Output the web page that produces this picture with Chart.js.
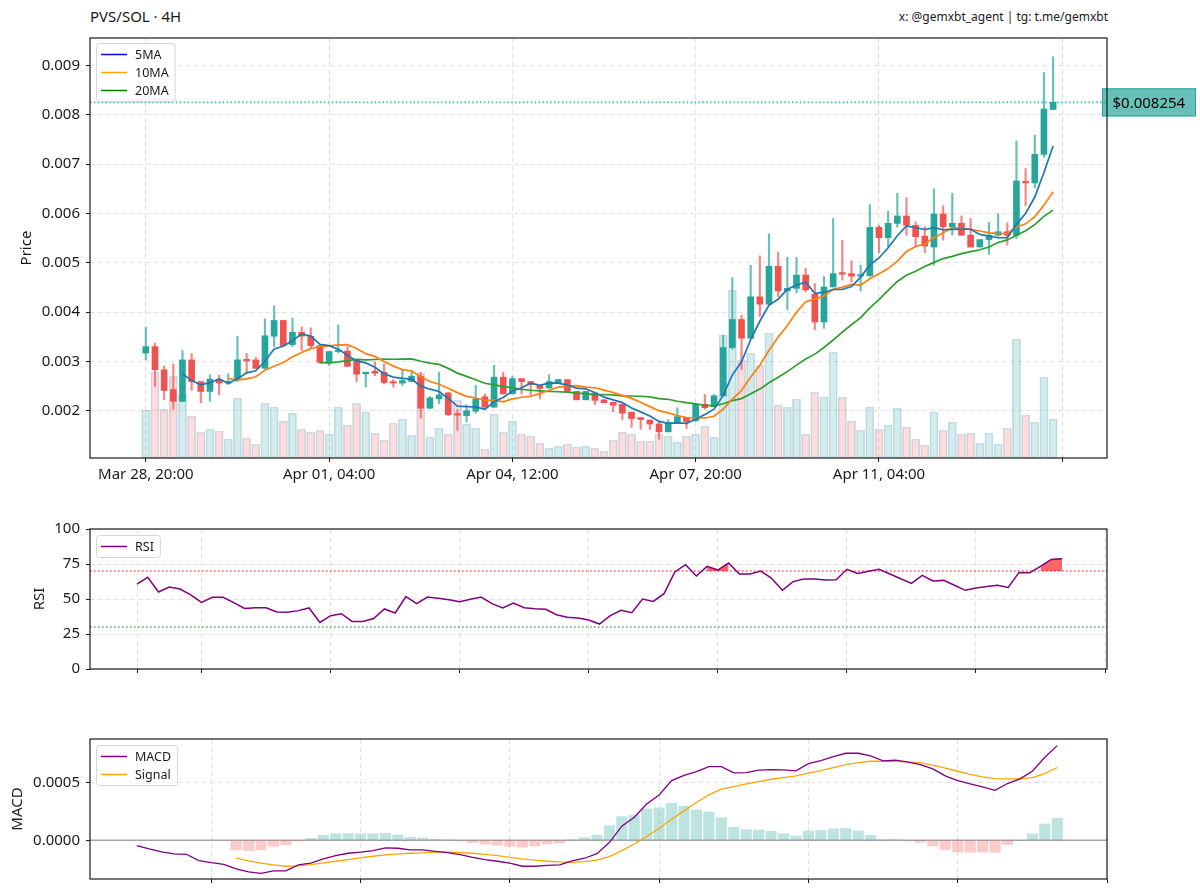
<!DOCTYPE html>
<html>
<head>
<meta charset="utf-8">
<title>PVS/SOL · 4H</title>
<script src="https://cdn.jsdelivr.net/npm/chart.js@4.4.1/dist/chart.umd.min.js"></script>
<style>
  html, body { margin: 0; padding: 0; background: #fff; }
  #wrap { position: relative; width: 1200px; height: 896px; font-family: "Noto Sans", sans-serif; overflow: hidden; }
  canvas { position: absolute; left: 0; }
  .hdr { position: absolute; color: #1a1a1a; white-space: nowrap; line-height: 1; }
  #title { left: 90px; top: 9px; font-size: 15px; }
  #credit { right: 92px; top: 11px; font-size: 12px; }
</style>
</head>
<body>
<div id="wrap">
  <div class="hdr" id="title">PVS/SOL · 4H</div>
  <div class="hdr" id="credit">x: @gemxbt_agent | tg: t.me/gemxbt</div>
  <canvas id="price" width="1200" height="500" style="top:0"></canvas>
  <canvas id="rsi" width="1200" height="190" style="top:500px"></canvas>
  <canvas id="macd" width="1200" height="206" style="top:690px"></canvas>
</div>
<script>
// ---- candles (4H), index 0 = Mar 28 20:00 ----
const priceTicks = [0, 20, 40, 60, 80, 100];
const priceTickLabels = ["Mar 28, 20:00", "Apr 01, 04:00", "Apr 04, 12:00", "Apr 07, 20:00", "Apr 11, 04:00", ""];
const priceLevels = [0.002, 0.003, 0.004, 0.005, 0.006, 0.007, 0.008, 0.009];

const open = [0.00317,0.00330,0.00283,0.00243,0.00219,0.00303,0.00259,0.00239,0.00263,0.00256,
  0.00263,0.00303,0.00303,0.00286,0.00351,0.00383,0.00334,0.00359,0.00351,0.00332,
  0.00297,0.00320,0.00321,0.00303,0.00275,0.00280,0.00278,0.00259,0.00256,0.00259,
  0.00270,0.00205,0.00224,0.00236,0.00193,0.00190,0.00199,0.00228,0.00207,0.00268,
  0.00234,0.00265,0.00259,0.00251,0.00246,0.00256,0.00263,0.00239,0.00222,0.00236,
  0.00222,0.00217,0.00213,0.00197,0.00186,0.00181,0.00173,0.00157,0.00176,0.00186,
  0.00180,0.00213,0.00208,0.00230,0.00328,0.00385,0.00347,0.00431,0.00416,0.00493,
  0.00443,0.00448,0.00475,0.00436,0.00380,0.00451,0.00478,0.00478,0.00473,0.00474,
  0.00572,0.00551,0.00580,0.00595,0.00576,0.00554,0.00532,0.00599,0.00573,0.00580,
  0.00556,0.00532,0.00547,0.00556,0.00563,0.00556,0.00664,0.00662,0.00720,0.00811];
const high = [0.00369,0.00337,0.00291,0.00295,0.00322,0.00316,0.00259,0.00273,0.00272,0.00275,
  0.00351,0.00316,0.00308,0.00386,0.00413,0.00383,0.00388,0.00370,0.00368,0.00332,
  0.00320,0.00374,0.00330,0.00303,0.00278,0.00299,0.00295,0.00263,0.00284,0.00282,
  0.00278,0.00229,0.00278,0.00237,0.00202,0.00212,0.00251,0.00234,0.00292,0.00278,
  0.00270,0.00265,0.00259,0.00251,0.00273,0.00263,0.00263,0.00239,0.00239,0.00236,
  0.00222,0.00217,0.00213,0.00197,0.00186,0.00181,0.00178,0.00182,0.00206,0.00186,
  0.00213,0.00233,0.00233,0.00353,0.00470,0.00394,0.00495,0.00514,0.00559,0.00522,
  0.00511,0.00511,0.00489,0.00458,0.00472,0.00590,0.00546,0.00504,0.00495,0.00618,
  0.00576,0.00605,0.00641,0.00632,0.00583,0.00573,0.00650,0.00616,0.00641,0.00595,
  0.00590,0.00547,0.00582,0.00599,0.00581,0.00747,0.00691,0.00759,0.00886,0.00918];
const low = [0.00303,0.00249,0.00222,0.00203,0.00218,0.00241,0.00216,0.00219,0.00232,0.00253,
  0.00259,0.00276,0.00285,0.00285,0.00330,0.00330,0.00330,0.00322,0.00327,0.00296,
  0.00292,0.00317,0.00289,0.00259,0.00248,0.00271,0.00254,0.00248,0.00251,0.00259,
  0.00185,0.00204,0.00214,0.00190,0.00160,0.00177,0.00195,0.00207,0.00207,0.00234,
  0.00234,0.00234,0.00232,0.00224,0.00246,0.00256,0.00239,0.00222,0.00222,0.00213,
  0.00216,0.00198,0.00182,0.00166,0.00162,0.00162,0.00142,0.00157,0.00174,0.00164,
  0.00178,0.00203,0.00208,0.00230,0.00325,0.00284,0.00347,0.00391,0.00414,0.00431,
  0.00405,0.00439,0.00441,0.00364,0.00367,0.00451,0.00465,0.00461,0.00443,0.00472,
  0.00520,0.00532,0.00572,0.00556,0.00532,0.00521,0.00495,0.00546,0.00556,0.00556,
  0.00532,0.00532,0.00517,0.00554,0.00536,0.00549,0.00616,0.00652,0.00714,0.00811];
const close = [0.00330,0.00283,0.00241,0.00219,0.00303,0.00259,0.00239,0.00264,0.00256,0.00259,
  0.00303,0.00301,0.00286,0.00352,0.00383,0.00332,0.00359,0.00351,0.00332,0.00298,
  0.00320,0.00323,0.00290,0.00274,0.00278,0.00276,0.00257,0.00256,0.00261,0.00270,
  0.00205,0.00226,0.00232,0.00192,0.00191,0.00200,0.00224,0.00207,0.00268,0.00234,
  0.00265,0.00259,0.00253,0.00245,0.00259,0.00263,0.00239,0.00222,0.00239,0.00221,
  0.00216,0.00211,0.00195,0.00184,0.00182,0.00173,0.00157,0.00176,0.00188,0.00178,
  0.00213,0.00206,0.00230,0.00328,0.00385,0.00347,0.00431,0.00416,0.00493,0.00443,
  0.00448,0.00475,0.00445,0.00380,0.00451,0.00478,0.00477,0.00473,0.00476,0.00572,
  0.00551,0.00580,0.00595,0.00576,0.00553,0.00534,0.00599,0.00573,0.00580,0.00556,
  0.00532,0.00547,0.00556,0.00563,0.00556,0.00666,0.00662,0.00720,0.00812,0.008254];
// volume, relative units (axis 0..420)
const volume = [48,86,49,82,64,42,26,29,27,19,60,20,14,55,51,37,45,29,26,28,
  24,51,33,55,46,25,18,35,39,23,85,21,30,24,58,34,30,9,44,26,
  37,24,22,15,10,12,14,11,12,10,7,18,26,24,17,17,24,22,16,22,
  24,32,21,123,168,98,105,93,125,53,51,59,24,66,61,106,61,37,28,51,
  29,33,50,31,19,13,46,28,36,24,25,15,25,14,30,119,43,36,81,39];

// moving averages as drawn (5MA from candle 4, 10MA from 9, 20MA from 19)
const ma5 = [0.002752,0.002610,0.002522,0.002568,0.002642,0.002554,0.002642,0.002766,0.002810,0.003002,
  0.003250,0.003308,0.003424,0.003554,0.003514,0.003344,0.003320,0.003248,0.003126,0.003010,
  0.002970,0.002882,0.002750,0.002682,0.002656,0.002640,0.002498,0.002436,0.002388,0.002250,
  0.002092,0.002082,0.002078,0.002028,0.002180,0.002266,0.002396,0.002466,0.002558,0.002512,
  0.002562,0.002558,0.002518,0.002456,0.002444,0.002368,0.002274,0.002218,0.002164,0.002054,
  0.001976,0.001890,0.001782,0.001744,0.001752,0.001744,0.001824,0.001922,0.002030,0.002310,
  0.002724,0.002992,0.003442,0.003814,0.004144,0.004260,0.004462,0.004550,0.004608,0.004382,
  0.004398,0.004458,0.004462,0.004518,0.004710,0.004952,0.005098,0.005304,0.005548,0.005748,
  0.005710,0.005676,0.005714,0.005670,0.005678,0.005684,0.005680,0.005576,0.005542,0.005508,
  0.005508,0.005776,0.006006,0.006334,0.006832,0.007371];
const ma10 = [0.002653,0.002626,0.002644,0.002689,0.002822,0.002902,0.002975,0.003095,0.003182,0.003258,
  0.003297,0.003314,0.003336,0.003340,0.003262,0.003157,0.003101,0.002999,0.002904,0.002833,
  0.002805,0.002690,0.002593,0.002535,0.002453,0.002366,0.002290,0.002257,0.002208,0.002215,
  0.002179,0.002239,0.002272,0.002293,0.002346,0.002414,0.002477,0.002492,0.002507,0.002478,
  0.002465,0.002416,0.002368,0.002310,0.002249,0.002172,0.002082,0.002000,0.001954,0.001903,
  0.001860,0.001857,0.001852,0.001887,0.002031,0.002234,0.002408,0.002682,0.002922,0.003227,
  0.003492,0.003727,0.003996,0.004211,0.004263,0.004329,0.004460,0.004506,0.004563,0.004546,
  0.004675,0.004778,0.004883,0.005033,0.005229,0.005331,0.005387,0.005509,0.005609,0.005713,
  0.005697,0.005678,0.005645,0.005606,0.005593,0.005596,0.005728,0.005791,0.005938,0.006170,
  0.006439];
const ma20 = [0.002975,0.002970,0.002990,0.003015,0.003042,0.003030,0.003038,0.003047,0.003043,0.003046,
  0.003051,0.003002,0.002965,0.002938,0.002858,0.002762,0.002696,0.002628,0.002556,0.002524,
  0.002492,0.002465,0.002433,0.002414,0.002400,0.002390,0.002384,0.002375,0.002358,0.002347,
  0.002322,0.002328,0.002320,0.002302,0.002298,0.002293,0.002280,0.002246,0.002231,0.002191,
  0.002163,0.002137,0.002110,0.002099,0.002140,0.002203,0.002245,0.002341,0.002438,0.002565,
  0.002676,0.002792,0.002924,0.003049,0.003147,0.003282,0.003434,0.003594,0.003743,0.003887,
  0.004084,0.004253,0.004440,0.004622,0.004746,0.004830,0.004924,0.005008,0.005086,0.005130,
  0.005186,0.005228,0.005264,0.005320,0.005411,0.005464,0.005558,0.005650,0.005774,0.005942,
  0.006068];

// ---- RSI panel ----
const rsiTicks = [0, 6, 18, 30, 42, 54, 66, 78, 90];
const rsiLevels = [0, 25, 50, 75, 100];
const rsi = [60.7,65.5,55.0,58.6,57.1,52.9,47.6,51.2,51.2,47.4,
  43.3,43.8,43.8,40.7,40.5,41.7,43.6,33.3,38.1,39.5,
  34.0,34.0,36.0,42.9,40.0,51.7,46.7,51.4,50.5,49.5,
  48.1,49.8,51.4,46.7,43.6,47.1,43.8,43.1,42.6,38.8,
  36.9,36.4,35.0,32.1,38.1,41.9,40.2,50.0,48.3,53.8,
  69.3,74.5,66.4,73.3,70.7,75.7,67.9,67.9,69.9,64.8,
  56.2,62.4,64.3,64.3,63.6,63.8,71.2,68.3,69.8,71.2,
  67.9,64.5,61.2,66.9,62.9,63.3,59.8,56.2,57.9,59.0,
  59.8,58.3,69.0,68.8,73.3,78.3,78.8];

// ---- MACD panel (signal + histogram start at index 8) ----
const macdTicks = [6, 18, 30, 42, 54, 66, 78];
const macdLevels = [0, 0.0005];
const macd = [-4.6e-5,-7.5e-5,-10.1e-5,-11.8e-5,-12.1e-5,-17.5e-5,-19.3e-5,-20.7e-5,-24.7e-5,-27.3e-5,
  -28.5e-5,-26.4e-5,-26.4e-5,-21.3e-5,-19.8e-5,-16.1e-5,-13.2e-5,-11.2e-5,-10.3e-5,-8.9e-5,
  -6.6e-5,-6.9e-5,-8.3e-5,-8.3e-5,-9.5e-5,-10.6e-5,-12.4e-5,-14.7e-5,-16.7e-5,-18.1e-5,
  -19.8e-5,-22.4e-5,-22.4e-5,-21.6e-5,-21.3e-5,-17.8e-5,-15.5e-5,-11.6e-5,-2.0e-5,12.1e-5,
  19.8e-5,31.3e-5,39.1e-5,51.4e-5,56.0e-5,59.2e-5,63.5e-5,63.5e-5,58.1e-5,58.3e-5,
  60.4e-5,60.9e-5,60.6e-5,59.8e-5,66.1e-5,68.7e-5,72.1e-5,75.0e-5,75.0e-5,72.7e-5,
  68.4e-5,69.0e-5,67.3e-5,65.2e-5,61.5e-5,55.5e-5,51.4e-5,48.6e-5,46.0e-5,43.1e-5,
  48.9e-5,52.9e-5,59.5e-5,71.6e-5,81.6e-5];
const signal = [-15.5e-5,-17.8e-5,-19.8e-5,-21.3e-5,-22.4e-5,-22.1e-5,-21.0e-5,-19.5e-5,-18.1e-5,-16.7e-5,
  -15.2e-5,-13.8e-5,-12.6e-5,-11.8e-5,-11.2e-5,-10.9e-5,-10.3e-5,-10.3e-5,-10.6e-5,-11.2e-5,
  -12.1e-5,-13.2e-5,-14.7e-5,-16.1e-5,-17.2e-5,-18.1e-5,-18.7e-5,-19.0e-5,-18.4e-5,-17.1e-5,
  -14.1e-5,-8.9e-5,-3.2e-5,3.2e-5,10.3e-5,18.1e-5,25.3e-5,32.5e-5,39.1e-5,44.0e-5,
  46.3e-5,48.6e-5,50.6e-5,52.6e-5,54.0e-5,55.5e-5,57.8e-5,60.1e-5,62.7e-5,65.2e-5,
  67.0e-5,68.1e-5,68.1e-5,68.1e-5,67.5e-5,66.7e-5,64.7e-5,62.1e-5,59.5e-5,56.9e-5,
  54.6e-5,53.2e-5,52.9e-5,52.9e-5,54.0e-5,57.5e-5,62.7e-5];
const hist = [-8.3e-5,-8.9e-5,-8.3e-5,-5.2e-5,-4.0e-5,-0.6e-5,1.7e-5,4.3e-5,5.7e-5,5.7e-5,
  5.5e-5,5.5e-5,6.0e-5,4.6e-5,2.6e-5,2.0e-5,0.9e-5,0.3e-5,-0.6e-5,-2.0e-5,
  -3.4e-5,-4.3e-5,-5.2e-5,-6.0e-5,-4.9e-5,-3.2e-5,-2.3e-5,0.3e-5,2.3e-5,4.6e-5,
  12.6e-5,20.4e-5,21.8e-5,27.0e-5,27.9e-5,31.9e-5,29.3e-5,26.2e-5,24.4e-5,19.5e-5,
  11.2e-5,9.2e-5,8.9e-5,7.8e-5,5.7e-5,3.7e-5,8.0e-5,8.6e-5,9.8e-5,10.1e-5,
  8.0e-5,4.3e-5,0.3e-5,0.6e-5,-0.6e-5,-1.7e-5,-4.9e-5,-8.0e-5,-10.1e-5,-10.3e-5,
  -10.1e-5,-10.3e-5,-3.7e-5,0.0,5.5e-5,14.1e-5,19.0e-5];

// ---- helpers ----
const UP = "#26a69a", DOWN = "#ef5350";
const FONT = "'Noto Sans', sans-serif";
const tickFont = { family: FONT, size: 15 };
const titleFont = { family: FONT, size: 15 };
const INK = "#1a1a1a";

const series = (arr, start) => arr.map((v, k) => ({ x: start + k, y: v }));
const fixedTicks = values => scale => { scale.ticks = values.map(v => ({ value: v })); };

function xAxis(min, max, ticks, labels, height) {
  return {
    type: "linear", min, max, offset: false,
    afterBuildTicks: fixedTicks(ticks),
    afterFit: s => { s.height = height; },
    ticks: { callback: (v, i) => labels ? labels[i] : "", font: tickFont, color: INK, padding: 4, maxRotation: 0, autoSkip: false },
    grid: { offset: false, color: "#e3e3e3", lineWidth: 1, tickColor: INK, tickLength: 4, tickWidth: 1 },
    border: { display: false, dash: [5, 3] }
  };
}
function yAxis(min, max, ticks, fmt, title, titlePad) {
  return {
    position: "left", min, max,
    afterBuildTicks: fixedTicks(ticks),
    afterFit: s => { s.width = 90; },
    ticks: { callback: fmt, font: tickFont, color: INK, padding: 6 },
    grid: { color: "#e3e3e3", lineWidth: 1, tickColor: INK, tickLength: 4, tickWidth: 1 },
    border: { display: false, dash: [5, 3] },
    title: { display: true, text: title, font: titleFont, color: INK, padding: { top: titlePad, bottom: 0 } }
  };
}

const framePlugin = {
  id: "frame",
  afterDraw(chart) {
    const { ctx, chartArea: a } = chart;
    ctx.save();
    ctx.strokeStyle = INK;
    ctx.lineWidth = 1.2;
    ctx.strokeRect(a.left, a.top, a.right - a.left, a.bottom - a.top);
    ctx.restore();
  }
};

function boxLegend(items, offsetTop) {
  return {
    id: "boxLegend",
    afterDraw(chart) {
      const { ctx, chartArea: a } = chart;
      ctx.save();
      ctx.font = "12.5px " + FONT;
      const tw = Math.max(...items.map(it => ctx.measureText(it.text).width));
      const x = a.left + 6, y = a.top + offsetTop;
      const w = 39 + tw + 6, h = items.length * 18 + 4;
      ctx.beginPath();
      ctx.roundRect(x + 0.5, y + 0.5, w, h, 3);
      ctx.fillStyle = "rgba(255,255,255,0.85)";
      ctx.fill();
      ctx.strokeStyle = "#d6d6d6";
      ctx.lineWidth = 1;
      ctx.stroke();
      items.forEach((it, i) => {
        const cy = y + 11.5 + i * 18;
        ctx.beginPath();
        ctx.moveTo(x + 5, cy);
        ctx.lineTo(x + 31, cy);
        ctx.strokeStyle = it.color;
        ctx.lineWidth = 1.5;
        ctx.stroke();
        ctx.fillStyle = INK;
        ctx.textBaseline = "middle";
        ctx.fillText(it.text, x + 39, cy + 0.5);
      });
      ctx.restore();
    }
  };
}

function hLines(lines) {
  return {
    id: "hlines",
    beforeDatasetsDraw(chart) {
      const { ctx, chartArea: a, scales } = chart;
      ctx.save();
      lines.forEach(l => {
        const y = scales.y.getPixelForValue(l.value);
        ctx.beginPath();
        ctx.setLineDash(l.dash || []);
        ctx.strokeStyle = l.color;
        ctx.lineWidth = l.width;
        ctx.moveTo(a.left, y);
        ctx.lineTo(a.right, y);
        ctx.stroke();
      });
      ctx.restore();
    }
  };
}

function lastPrice(value) {
  return {
    id: "lastPrice",
    afterDatasetsDraw(chart) {
      const { ctx, chartArea: a, scales } = chart;
      const y = scales.y.getPixelForValue(value);
      ctx.save();
      ctx.setLineDash([1.5, 2.4]);
      ctx.strokeStyle = "rgba(38,166,154,0.85)";
      ctx.lineWidth = 1.6;
      ctx.beginPath();
      ctx.moveTo(a.left, y);
      ctx.lineTo(a.right, y);
      ctx.stroke();
      ctx.restore();
    },
    afterDraw(chart) {
      const { ctx, chartArea: a, scales } = chart;
      const y = scales.y.getPixelForValue(value);
      const bx = a.right - 5, bw = 94, bh = 28;
      ctx.save();
      ctx.fillStyle = "rgba(38,166,154,0.7)";
      ctx.strokeStyle = UP;
      ctx.lineWidth = 1;
      ctx.fillRect(bx, y - bh / 2, bw, bh);
      ctx.strokeRect(bx + 0.5, y - bh / 2 + 0.5, bw - 1, bh - 1);
      ctx.fillStyle = "#000";
      ctx.font = "15px " + FONT;
      ctx.textBaseline = "middle";
      ctx.fillText("$" + value.toFixed(6), bx + 10.5, y + 1);
      ctx.restore();
    }
  };
}

const base = {
  responsive: false,
  animation: false,
  events: [],
  plugins: { legend: { display: false }, tooltip: { enabled: false } }
};

// ---- price panel ----
const upFlags = close.map((c, i) => c >= open[i]);
const idx = close.map((_, i) => i);

new Chart(document.getElementById("price"), {
  type: "bar",
  data: {
    datasets: [
      { type: "line", label: "5MA", data: series(ma5, 4), borderColor: "#1f77b4", borderWidth: 1.7, pointRadius: 0, order: 0 },
      { type: "line", label: "10MA", data: series(ma10, 9), borderColor: "#ff7f0e", borderWidth: 1.7, pointRadius: 0, order: 0 },
      { type: "line", label: "20MA", data: series(ma20, 19), borderColor: "#2ca02c", borderWidth: 1.7, pointRadius: 0, order: 0 },
      { label: "body", data: idx.map(i => ({ x: i, y: [open[i], close[i]] })),
        backgroundColor: upFlags.map(u => u ? UP : DOWN), borderWidth: 0,
        barThickness: 6, minBarLength: 1.5, grouped: false, order: 1 },
      { label: "wick", data: idx.map(i => ({ x: i, y: [low[i], high[i]] })),
        backgroundColor: upFlags.map(u => u ? "rgba(38,166,154,0.7)" : "rgba(239,83,80,0.7)"), borderWidth: 0,
        barThickness: 1.5, grouped: false, order: 2 },
      { label: "volume", yAxisID: "yv", data: idx.map(i => ({ x: i, y: volume[i] })),
        backgroundColor: upFlags.map(u => u ? "rgba(38,166,154,0.2)" : "rgba(239,83,80,0.2)"),
        borderColor: "rgba(80,140,190,0.28)", borderWidth: 1, borderSkipped: false,
        barThickness: 8.3, grouped: false, order: 3 }
    ]
  },
  options: {
    ...base,
    layout: { padding: { left: 0, right: 93, top: 38, bottom: 0 } },
    scales: {
      x: xAxis(-6.09, 104.88, priceTicks, priceTickLabels, 42),
      y: yAxis(0.00104, 0.00956, priceLevels, v => v.toFixed(3), "Price", 18),
      yv: { display: false, min: 0, max: 420 }
    }
  },
  plugins: [lastPrice(close[close.length - 1]), framePlugin,
    boxLegend([{ text: "5MA", color: "#0000ff" }, { text: "10MA", color: "#ffa500" }, { text: "20MA", color: "#008000" }], 5)]
});

// ---- RSI panel ----
const rsiOver = rsi.map((v, k) => ({ x: k, y: (v > 70 && (rsi[k - 1] > 70 || rsi[k + 1] > 70)) ? v : null }));

new Chart(document.getElementById("rsi"), {
  type: "line",
  data: {
    datasets: [
      { label: "RSI", data: series(rsi, 0), borderColor: "#800080", borderWidth: 1.5, pointRadius: 0, order: 0 },
      { label: "overbought", data: rsiOver, borderColor: "rgba(255,0,0,0.6)", borderWidth: 1,
        backgroundColor: "rgba(255,0,0,0.6)", fill: { value: 70 }, pointRadius: 0, spanGaps: false, order: 1 }
    ]
  },
  options: {
    ...base,
    layout: { padding: { left: 0, right: 93, top: 29, bottom: 0 } },
    scales: {
      x: xAxis(-4.37, 90.18, rsiTicks, null, 21),
      y: yAxis(0, 100, rsiLevels, v => String(v), "RSI", 31)
    }
  },
  plugins: [hLines([
    { value: 70, color: "rgba(255,0,0,0.7)", width: 1.6, dash: [1.5, 2.5] },
    { value: 30, color: "rgba(0,128,0,0.7)", width: 1.6, dash: [1.5, 2.5] }
  ]), framePlugin, boxLegend([{ text: "RSI", color: "#800080" }], 6)]
});

// ---- MACD panel ----
new Chart(document.getElementById("macd"), {
  type: "bar",
  data: {
    datasets: [
      { type: "line", label: "MACD", data: series(macd, 0), borderColor: "#800080", borderWidth: 1.3, pointRadius: 0, order: 0 },
      { type: "line", label: "Signal", data: series(signal, 8), borderColor: "#ffa500", borderWidth: 1.3, pointRadius: 0, order: 1 },
      { label: "Histogram", data: series(hist, 8),
        backgroundColor: hist.map(v => v >= 0 ? "rgba(38,166,154,0.3)" : "rgba(239,83,80,0.3)"),
        borderWidth: 0, barThickness: 10.5, grouped: false, order: 2 }
    ]
  },
  options: {
    ...base,
    layout: { padding: { left: 0, right: 93, top: 49, bottom: 0 } },
    scales: {
      x: xAxis(-3.75, 78, macdTicks, null, 17),
      y: yAxis(-0.000334, 0.000873, macdLevels, v => v.toFixed(4), "MACD", 9)
    }
  },
  plugins: [hLines([{ value: 0, color: "rgba(140,140,140,0.75)", width: 1.6 }]), framePlugin,
    boxLegend([{ text: "MACD", color: "#800080" }, { text: "Signal", color: "#ffa500" }], 6)]
});
</script>
</body>
</html>
